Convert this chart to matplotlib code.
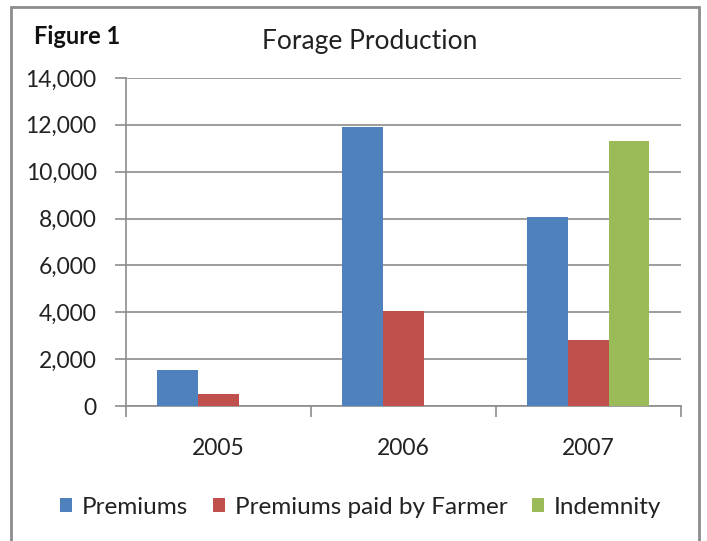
import matplotlib.pyplot as plt
import matplotlib.ticker as mticker
from matplotlib.patches import Rectangle
import numpy as np

plt.rcParams['font.family'] = ['Lato', 'DejaVu Sans']

years = ["2005", "2006", "2007"]
series_names = ["Premiums", "Premiums paid by Farmer", "Indemnity"]
premiums = [1550, 11900, 8050]
paid_by_farmer = [500, 4050, 2800]
indemnity = [0, 0, 11300]
colors = ["#4F81BD", "#C0504D", "#9BBB59"]

fig = plt.figure(figsize=(7.07, 5.41), dpi=100)
ax = fig.add_axes([0.178, 0.2495, 0.785, 0.6065])

x = np.arange(len(years))
w = 0.22
for i, (vals, name) in enumerate(zip([premiums, paid_by_farmer, indemnity], series_names)):
    ax.bar(x + (i - 1) * w, vals, width=w, color=colors[i], label=name, zorder=3)

ax.set_xlim(-0.5, 2.5)
ax.set_ylim(0, 14000)
ax.yaxis.set_major_locator(mticker.MultipleLocator(2000))
ax.yaxis.set_major_formatter(mticker.FuncFormatter(lambda v, p: f"{int(v):,}"))
ax.grid(axis="y", color="#8c8c8c", linewidth=1.2, zorder=0)

ax.set_xticks(x)
ax.set_xticklabels(years)
ax.set_xticks(np.arange(-0.5, 3.0, 1.0), minor=True)
ax.tick_params(axis="x", which="major", length=0, pad=23, labelsize=16.5, colors="#222222")
ax.tick_params(axis="x", which="minor", length=8, width=1.2, color="#8c8c8c")
ax.tick_params(axis="y", length=8, width=1.2, color="#8c8c8c", pad=13, labelsize=16.5,
               labelcolor="#222222")

for s in ["top", "right"]:
    ax.spines[s].set_visible(False)
for s in ["left", "bottom"]:
    ax.spines[s].set_color("#8c8c8c")
    ax.spines[s].set_linewidth(1.2)

fig.text(0.523, 1 - 42 / 541, "Forage Production", ha="center", va="center",
         fontsize=19, color="#222222")
fig.text(34 / 707, 1 - 37 / 541, "Figure 1", ha="left", va="center",
         fontsize=17, fontweight="bold", color="#111111")

fig.legend(loc="center", bbox_to_anchor=(0.51, 1 - 507 / 541), ncol=3, frameon=False,
           fontsize=17.5, handlelength=0.5, handleheight=0.5, handletextpad=0.4,
           columnspacing=1.0, labelcolor="#222222")

fig.patches.append(Rectangle((11 / 707, -0.1), 688 / 707, 1.1 - 7 / 541,
                             transform=fig.transFigure, fill=False,
                             edgecolor="#8c8c8c", linewidth=2))

fig.savefig("out.png", dpi=100)
